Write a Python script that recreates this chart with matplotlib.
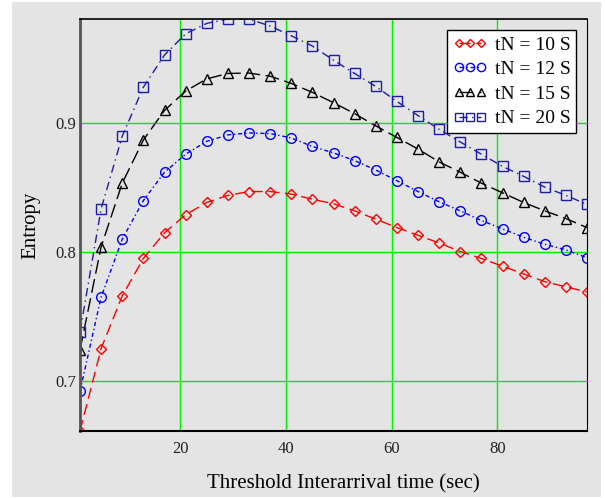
import numpy as np
import matplotlib
matplotlib.use('Agg')
import matplotlib.pyplot as plt
from matplotlib.patches import Rectangle

plt.rcParams['font.family'] = ['Liberation Serif', 'DejaVu Serif']

# threshold interarrival time (sec)
t = [1, 5, 9, 13, 17, 21, 25, 29, 33, 37, 41, 45, 49,
     53, 57, 61, 65, 69, 73, 77, 81, 85, 89, 93, 97]

tn10 = [0.661, 0.725, 0.766, 0.795, 0.815, 0.829, 0.8385, 0.844, 0.847, 0.847,
        0.845, 0.841, 0.8375, 0.832, 0.8255, 0.819, 0.813, 0.807, 0.8004,
        0.795, 0.789, 0.783, 0.777, 0.773, 0.769]
tn12 = [0.692, 0.765, 0.810, 0.840, 0.862, 0.876, 0.886, 0.891, 0.8925, 0.892,
        0.8886, 0.882, 0.877, 0.871, 0.8637, 0.8554, 0.847, 0.839, 0.832,
        0.8245, 0.818, 0.8115, 0.806, 0.8017, 0.7955]
tn15 = [0.724, 0.804, 0.8535, 0.887, 0.910, 0.925, 0.9345, 0.9387, 0.939,
        0.9366, 0.931, 0.924, 0.916, 0.9075, 0.898, 0.889, 0.880, 0.870,
        0.862, 0.8535, 0.846, 0.8385, 0.832, 0.826, 0.819]
tn20 = [0.738, 0.8336, 0.890, 0.928, 0.953, 0.9695, 0.9776, 0.981, 0.981,
        0.9755, 0.968, 0.960, 0.949, 0.9387, 0.9286, 0.917, 0.906, 0.8953,
        0.8855, 0.876, 0.8665, 0.8588, 0.8504, 0.844, 0.837]

bg = '#e4e4e4'
fig = plt.figure(figsize=(6.05, 4.98), dpi=100)
fig.patch.set_facecolor('white')
fig.patches.append(Rectangle((12 / 605, 1 / 498), 589 / 605, 495 / 498,
                             transform=fig.transFigure, facecolor=bg,
                             edgecolor='none', zorder=-10))

ax = fig.add_axes([80 / 605, 67 / 498, 507 / 605, 412 / 498])
ax.set_facecolor(bg)

ax.plot(t, tn10, color='red', marker='D', ms=5, mfc='none', mew=1, lw=1,
        dashes=(8, 4), label='tN = 10 S')
ax.plot(t, tn12, color='blue', marker='o', ms=7, mfc='none', mew=1, lw=1,
        dashes=(3, 2, 1, 2), label='tN = 12 S')
ax.plot(t, tn15, color='black', marker='^', ms=7, mfc='none', mew=1, lw=1,
        dashes=(10, 4), label='tN = 15 S')
ax.plot(t, tn20, color='#1c1ca8', marker='s', ms=7, mfc='none', mew=1, lw=1,
        dashes=(6, 3, 1, 3), label='tN = 20 S')

ax.set_xlim(1, 97)
ax.set_ylim(0.661, 0.981)
ax.set_xticks([20, 40, 60, 80])
ax.set_yticks([0.7, 0.8, 0.9])
ax.set_yticklabels(['0.7', '0.8', '0.9'])
ax.grid(True, color='#00ee00', lw=1)
ax.set_axisbelow(True)
ax.tick_params(length=0, labelsize=12, colors='#222222', pad=3)
ax.tick_params(axis='x', pad=7)

for s in ['top', 'right', 'bottom']:
    ax.spines[s].set_color('black')
ax.spines['left'].set_color('#555555')
ax.spines['left'].set_linewidth(2)
ax.spines['bottom'].set_linewidth(1.5)
ax.spines['top'].set_linewidth(1.2)

ax.set_xlabel('Threshold Interarrival time (sec)', fontsize=15)
ax.xaxis.set_label_coords(0.52, -0.104)
ax.set_ylabel('Entropy', fontsize=15, va='center')
ax.yaxis.set_label_coords(-0.097, 0.5)

leg = ax.legend(loc='upper right', bbox_to_anchor=(0.979, 0.973), fontsize=14,
                numpoints=3, handlelength=1.75, handletextpad=0.4,
                borderpad=0.3, labelspacing=0.36, fancybox=False,
                framealpha=1, edgecolor='black', borderaxespad=0,
                markerscale=0.85)
leg.get_frame().set_linewidth(1)

fig.savefig('out.png', dpi=100, facecolor=fig.get_facecolor())
